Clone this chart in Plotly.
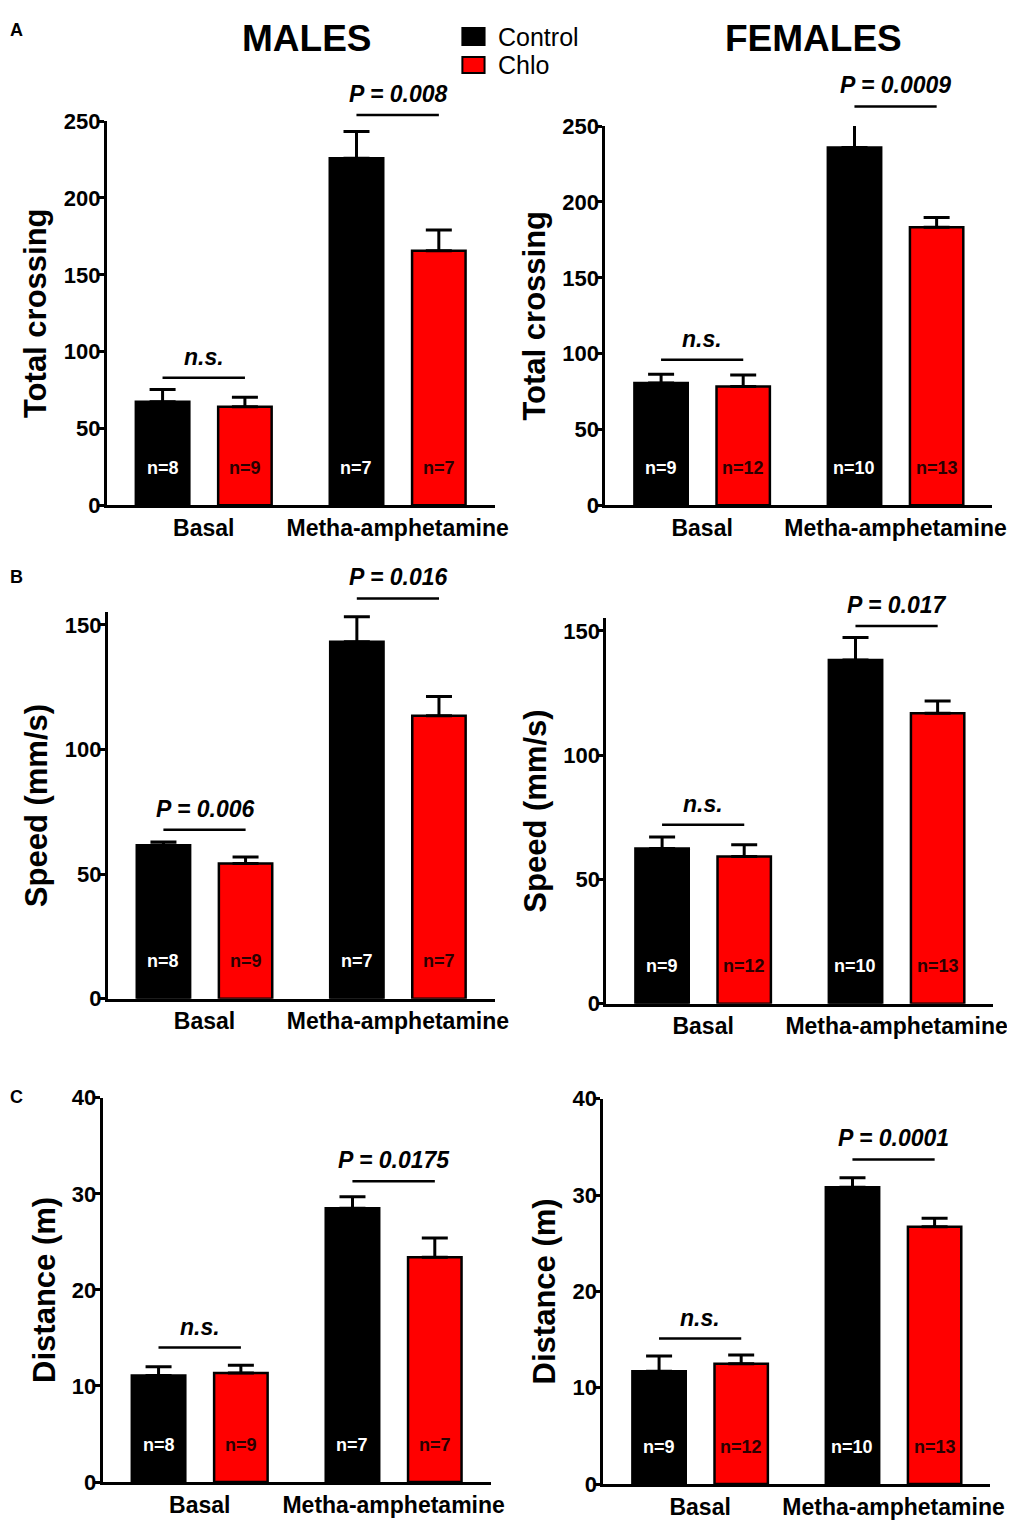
import plotly.graph_objects as go

W, H = 1018, 1530
FONT = "Liberation Sans, Arial, sans-serif"

groups = ["Basal", "Metha-amphetamine"]
legend_names = ["Control", "Chlo"]
colors = ["#000000", "#ff0000"]

# sample sizes
n_males_ctrl = [8, 7]
n_males_chlo = [9, 7]
n_females_ctrl = [9, 10]
n_females_chlo = [12, 13]

# A - total crossing (mean, sem)
cross_m_ctrl = [67.4, 225.9]
cross_m_ctrl_sem = [7.9, 17.4]
cross_m_chlo = [64.1, 165.7]
cross_m_chlo_sem = [6.3, 13.5]
cross_f_ctrl = [80.7, 235.9]
cross_f_ctrl_sem = [5.7, 15.2]
cross_f_chlo = [78.4, 183.4]
cross_f_chlo_sem = [7.5, 6.4]

# B - speed (mm/s)
speed_m_ctrl = [61.6, 143.2]
speed_m_ctrl_sem = [1.3, 10.1]
speed_m_chlo = [54.2, 113.5]
speed_m_chlo_sem = [2.7, 7.8]
speed_f_ctrl = [62.4, 138.3]
speed_f_ctrl_sem = [4.7, 9.0]
speed_f_chlo = [59.2, 116.9]
speed_f_chlo_sem = [4.7, 4.9]

# C - distance (m)
dist_m_ctrl = [11.1, 28.5]
dist_m_ctrl_sem = [0.9, 1.2]
dist_m_chlo = [11.35, 23.4]
dist_m_chlo_sem = [0.8, 2.0]
dist_f_ctrl = [11.7, 30.8]
dist_f_ctrl_sem = [1.6, 1.0]
dist_f_chlo = [12.5, 26.7]
dist_f_chlo_sem = [0.9, 0.9]

# significance labels and bracket heights (data units)
sig_cross_m = ["n.s.", "P = 0.008"]
sig_cross_m_lvl = [83, 254]
sig_cross_f = ["n.s.", "P = 0.0009"]
sig_cross_f_lvl = [96, 263]
sig_speed_m = ["P = 0.006", "P = 0.016"]
sig_speed_m_lvl = [67.8, 160.6]
sig_speed_f = ["n.s.", "P = 0.017"]
sig_speed_f_lvl = [72, 152]
sig_dist_m = ["n.s.", "P = 0.0175"]
sig_dist_m_lvl = [14.0, 31.3]
sig_dist_f = ["n.s.", "P = 0.0001"]
sig_dist_f_lvl = [15.1, 33.7]

# picture pixel -> paper fraction (measured offset/scale of the rendered page)
SX, SY, OX, OY = 0.98, 0.983, -1.9, 13.1


def fx(x):
    return ((x - OX) / SX - 8) / W


def fy(y):
    return 1 - ((y - OY) / SY - 8) / H


panels = [
    # ylabel, ymax, dtick, ctrl, ctrl_sem, chlo, chlo_sem, n_ctrl, n_chlo, sig, sig_lvl, box(l, r, top, bottom px)
    ("Total crossing", 250, 50, cross_m_ctrl, cross_m_ctrl_sem, cross_m_chlo, cross_m_chlo_sem,
     n_males_ctrl, n_males_chlo, sig_cross_m, sig_cross_m_lvl, (104, 489, 122, 506)),
    ("Total crossing", 250, 50, cross_f_ctrl, cross_f_ctrl_sem, cross_f_chlo, cross_f_chlo_sem,
     n_females_ctrl, n_females_chlo, sig_cross_f, sig_cross_f_lvl, (599, 983, 127, 506)),
    ("Speed (mm/s)", 155, 50, speed_m_ctrl, speed_m_ctrl_sem, speed_m_chlo, speed_m_chlo_sem,
     n_males_ctrl, n_males_chlo, sig_speed_m, sig_speed_m_lvl, (105, 489, 613, 999)),
    ("Speed (mm/s)", 155, 50, speed_f_ctrl, speed_f_ctrl_sem, speed_f_chlo, speed_f_chlo_sem,
     n_females_ctrl, n_females_chlo, sig_speed_f, sig_speed_f_lvl, (600, 984, 619, 1004)),
    ("Distance (m)", 40, 10, dist_m_ctrl, dist_m_ctrl_sem, dist_m_chlo, dist_m_chlo_sem,
     n_males_ctrl, n_males_chlo, sig_dist_m, sig_dist_m_lvl, (100, 485, 1098, 1482)),
    ("Distance (m)", 40, 10, dist_f_ctrl, dist_f_ctrl_sem, dist_f_chlo, dist_f_chlo_sem,
     n_females_ctrl, n_females_chlo, sig_dist_f, sig_dist_f_lvl, (597, 981, 1099, 1484)),
]

fig = go.Figure()
annotations = []
shapes = []
layout_axes = {}
offset = 0.2125  # bar centre offset within a group (category units)

for i, (ylab, ymax, dtick, ctrl, ctrl_sem, chlo, chlo_sem, n_ctrl, n_chlo, sig, sig_lvl, box) in enumerate(panels, 1):
    xa = "x" if i == 1 else f"x{i}"
    ya = "y" if i == 1 else f"y{i}"
    l, r, top, bottom = box

    for name, vals, sem, col in [(legend_names[0], ctrl, ctrl_sem, colors[0]),
                                 (legend_names[1], chlo, chlo_sem, colors[1])]:
        fig.add_trace(go.Bar(
            x=groups, y=vals, name=name, xaxis=xa, yaxis=ya, showlegend=False,
            marker=dict(color=col, line=dict(color="black", width=2.5)),
            error_y=dict(type="data", array=sem, arrayminus=[0] * len(sem), symmetric=False,
                         color="black", thickness=3, width=13),
        ))

    layout_axes["xaxis" if i == 1 else f"xaxis{i}"] = dict(
        domain=[fx(l), fx(r)], anchor=ya, type="category", range=[-0.5, 1.5],
        showline=True, linewidth=3, linecolor="black", ticks="", showgrid=False,
        tickfont=dict(size=23, family=FONT, color="black", weight="bold"),
    )
    layout_axes["yaxis" if i == 1 else f"yaxis{i}"] = dict(
        domain=[fy(bottom), fy(top)], anchor=xa, range=[0, ymax], dtick=dtick,
        showline=True, linewidth=3, linecolor="black", ticks="outside", ticklen=5,
        tickwidth=2.5, tickcolor="black", showgrid=False, zeroline=False,
        ticklabelstandoff=-6,
        tickfont=dict(size=22, family=FONT, color="black", weight="bold"),
        title=dict(text=ylab, standoff=8,
                   font=dict(size=31, family=FONT, color="black", weight="bold")),
    )

    ydom = "y domain" if i == 1 else f"y{i} domain"
    for g in range(len(groups)):
        # n labels inside the bars
        annotations.append(dict(x=g - offset, y=0, xref=xa, yref=ydom, yshift=37.5,
                                text=f"n={n_ctrl[g]}", showarrow=False, yanchor="middle",
                                font=dict(size=18, family=FONT, color="white", weight="bold")))
        annotations.append(dict(x=g + offset, y=0, xref=xa, yref=ydom, yshift=37.5,
                                text=f"n={n_chlo[g]}", showarrow=False, yanchor="middle",
                                font=dict(size=18, family=FONT, color="#2a0000", weight="bold")))
        # significance bracket
        shapes.append(dict(type="line", xref=xa, yref=ydom,
                           x0=g - offset, x1=g + offset,
                           y0=sig_lvl[g] / ymax, y1=sig_lvl[g] / ymax,
                           line=dict(color="black", width=2.5)))
        annotations.append(dict(x=g, y=sig_lvl[g] / ymax, xref=xa, yref=ydom, yshift=6,
                                text=sig[g], showarrow=False, yanchor="bottom", xanchor="center",
                                font=dict(size=23, family=FONT, color="black",
                                          weight="bold", style="italic")))

# legend (square key + label)
for name, col, ytop, ybot in zip(legend_names, colors, [29, 58], [46, 74]):
    shapes.append(dict(type="rect", xref="paper", yref="paper",
                       x0=fx(457), x1=fx(479), y0=fy(ybot), y1=fy(ytop),
                       fillcolor=col, line=dict(color="black", width=2)))
    annotations.append(dict(x=fx(490), y=fy((ytop + ybot) / 2), xref="paper", yref="paper",
                            text=name, showarrow=False, xanchor="left", yanchor="middle",
                            font=dict(size=25, family=FONT, color="black")))

# column titles and panel letters
for title, xc in [("MALES", 303), ("FEMALES", 806)]:
    annotations.append(dict(x=fx(xc), y=1, xref="paper", yref="paper", text=title,
                            showarrow=False, xanchor="center", yanchor="top", yshift=4,
                            font=dict(size=37, family=FONT, color="black", weight="bold")))
annotations.append(dict(x=0, y=1, xref="paper", yref="paper", text="A",
                        showarrow=False, xanchor="left", yanchor="top", yshift=2,
                        font=dict(size=18, family=FONT, color="black", weight="bold")))
for letter, ypos in [("B", 578), ("C", 1097)]:
    annotations.append(dict(x=0, y=fy(ypos), xref="paper", yref="paper", text=letter,
                            showarrow=False, xanchor="left", yanchor="middle",
                            font=dict(size=18, family=FONT, color="black", weight="bold")))

fig.update_layout(
    width=W, height=H, margin=dict(l=0, r=0, t=0, b=0),
    paper_bgcolor="white", plot_bgcolor="white",
    barmode="group", bargap=0.151, bargroupgap=0.35,
    showlegend=False,
    annotations=annotations, shapes=shapes,
    **layout_axes,
)

fig.write_html("out.html")
